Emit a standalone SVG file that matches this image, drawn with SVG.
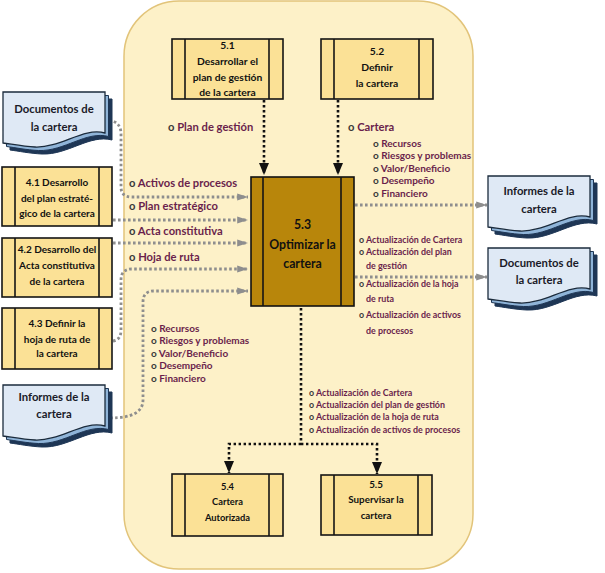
<svg xmlns="http://www.w3.org/2000/svg" width="605" height="573" viewBox="0 0 605 573">
<style>
text{font-family:Lato,"Liberation Sans",sans-serif;font-weight:bold}
.proc{fill:#fbe196;stroke:#151515;stroke-width:1.6}
.div{stroke:#151515;stroke-width:1.6}
.nt{font-size:10.3px;fill:#111;text-anchor:middle}
.n4{font-size:10px}
.dt{font-size:11.3px;fill:#1a1a28;text-anchor:middle}
.lb{fill:#6a1f4c}
.bu{fill:#3a3a3a}
.l1{font-size:11.2px}
.l2{font-size:10px}
.l3{font-size:8.9px}
.gd{fill:none;stroke:#8e8e8e;stroke-width:2.8;stroke-dasharray:2.6 2.4}
.bd{fill:none;stroke:#111;stroke-width:2.6;stroke-dasharray:2.4 2.6}
.s3{fill:#1e3655;stroke:#1e3655;stroke-width:1}
.s2{fill:#8fb4d8;stroke:#1e3655;stroke-width:1}
.s1{fill:#dfe9f5;stroke:#1b2b3c;stroke-width:1.3}
</style>
<defs>
<path id="doc" d="M0,0 H102 V41 C80,35 58,56 32,55 C20,54.5 8,52 0,51 Z"/>
<marker id="ga" viewBox="0 0 12 10" refX="12" refY="5" markerWidth="12" markerHeight="9" markerUnits="userSpaceOnUse" orient="auto"><path d="M0,1 L12,5 L0,9 Z" fill="#8e8e8e"/></marker>
<marker id="ba" viewBox="0 0 12 10" refX="12" refY="5" markerWidth="13" markerHeight="10" markerUnits="userSpaceOnUse" orient="auto"><path d="M0,0 L12,5 L0,10 Z" fill="#111"/></marker>
</defs>
<rect id="panel" x="124" y="1" width="349" height="568" rx="55" fill="#fdf1c8" stroke="#e2c47a" stroke-width="1.5"/>

<g id="connectors">
<path class="gd" d="M109,120 Q121,122 121,134 L121,187 Q121,197 132,197 L248,197" marker-end="url(#ga)"/>
<path class="gd" d="M113,220 L248,220" marker-end="url(#ga)"/>
<path class="gd" d="M113,243 L248,243" marker-end="url(#ga)"/>
<path class="gd" d="M113,341 Q121,340 121,330 L121,280 Q121,269 132,269 L248,269" marker-end="url(#ga)"/>
<path class="gd" d="M110,418 Q143,418 143,400 L143,302 Q143,291 154,291 L248,291" marker-end="url(#ga)"/>
<path class="gd" d="M355,205 L487,205" marker-end="url(#ga)"/>
<path class="gd" d="M355,277 L487,277" marker-end="url(#ga)"/>
<path class="bd" d="M264,100 L264,175" marker-end="url(#ba)"/>
<path class="bd" d="M338,100 L338,175" marker-end="url(#ba)"/>
<path class="bd" d="M301,308 L301,444"/>
<path class="bd" d="M301,444 L229,444 L229,473" marker-end="url(#ba)"/>
<path class="bd" d="M301,444 L377,444 L377,474" marker-end="url(#ba)"/>
</g>

<g id="labels">
<text x="168" y="131" class="l1"><tspan class="bu">o </tspan><tspan class="lb">Plan de gestión</tspan></text>
<text x="348" y="131" class="l1"><tspan class="bu">o </tspan><tspan class="lb">Cartera</tspan></text>
<text x="129" y="187" class="l1"><tspan class="bu">o </tspan><tspan class="lb">Activos de procesos</tspan></text>
<text x="129" y="210" class="l1"><tspan class="bu">o </tspan><tspan class="lb">Plan estratégico</tspan></text>
<text x="129" y="235" class="l1"><tspan class="bu">o </tspan><tspan class="lb">Acta constitutiva</tspan></text>
<text x="129" y="261" class="l1"><tspan class="bu">o </tspan><tspan class="lb">Hoja de ruta</tspan></text>
<g class="l2">
<text x="373" y="147"><tspan class="bu">o </tspan><tspan class="lb">Recursos</tspan></text>
<text x="373" y="159"><tspan class="bu">o </tspan><tspan class="lb">Riesgos y problemas</tspan></text>
<text x="373" y="172"><tspan class="bu">o </tspan><tspan class="lb">Valor/Beneficio</tspan></text>
<text x="373" y="184"><tspan class="bu">o </tspan><tspan class="lb">Desempeño</tspan></text>
<text x="373" y="197"><tspan class="bu">o </tspan><tspan class="lb">Financiero</tspan></text>
<text x="151" y="332"><tspan class="bu">o </tspan><tspan class="lb">Recursos</tspan></text>
<text x="151" y="344"><tspan class="bu">o </tspan><tspan class="lb">Riesgos y problemas</tspan></text>
<text x="151" y="357"><tspan class="bu">o </tspan><tspan class="lb">Valor/Beneficio</tspan></text>
<text x="151" y="369"><tspan class="bu">o </tspan><tspan class="lb">Desempeño</tspan></text>
<text x="151" y="382"><tspan class="bu">o </tspan><tspan class="lb">Financiero</tspan></text>
</g>
<g class="l3">
<text x="359" y="243"><tspan class="bu">o </tspan><tspan class="lb">Actualización de Cartera</tspan></text>
<text x="359" y="255"><tspan class="bu">o </tspan><tspan class="lb">Actualización del plan</tspan></text>
<text x="366" y="269" class="lb">de gestión</text>
<text x="359" y="287"><tspan class="bu">o </tspan><tspan class="lb">Actualización de la hoja</tspan></text>
<text x="366" y="302" class="lb">de ruta</text>
<text x="359" y="318"><tspan class="bu">o </tspan><tspan class="lb">Actualización de activos</tspan></text>
<text x="366" y="334" class="lb">de procesos</text>
<text x="309" y="396"><tspan class="bu">o </tspan><tspan class="lb">Actualización de Cartera</tspan></text>
<text x="309" y="408"><tspan class="bu">o </tspan><tspan class="lb">Actualización del plan de gestión</tspan></text>
<text x="309" y="420"><tspan class="bu">o </tspan><tspan class="lb">Actualización de la hoja de ruta</tspan></text>
<text x="309" y="433"><tspan class="bu">o </tspan><tspan class="lb">Actualización de activos de procesos</tspan></text>
</g>
</g>

<g id="n51">
<rect class="proc" x="172" y="39" width="111" height="60"/>
<line class="div" x1="185" y1="39" x2="185" y2="99"/><line class="div" x1="269" y1="39" x2="269" y2="99"/>
<text class="nt" x="227.5" y="49">5.1</text>
<text class="nt" x="227.5" y="65">Desarrollar el</text>
<text class="nt" x="227.5" y="81">plan de gestión</text>
<text class="nt" x="227.5" y="96">de la cartera</text>
</g>
<g id="n52">
<rect class="proc" x="321" y="39" width="112" height="60"/>
<line class="div" x1="334" y1="39" x2="334" y2="99"/><line class="div" x1="419" y1="39" x2="419" y2="99"/>
<text class="nt" x="377" y="55">5.2</text>
<text class="nt" x="377" y="71">Definir</text>
<text class="nt" x="377" y="87">la cartera</text>
</g>
<g id="n53">
<rect x="251" y="177" width="103" height="129" fill="#b8860b" stroke="#111" stroke-width="1.6"/>
<line class="div" x1="263" y1="177" x2="263" y2="306"/><line class="div" x1="341" y1="177" x2="341" y2="306"/>
<text class="nt" x="302.5" y="229" style="font-size:12.3px">5.3</text>
<text class="nt" x="302.5" y="249" style="font-size:12.3px">Optimizar la</text>
<text class="nt" x="302.5" y="268" style="font-size:12.3px">cartera</text>
</g>
<g id="n41">
<rect class="proc" x="2" y="167" width="110" height="59"/>
<line class="div" x1="15" y1="167" x2="15" y2="226"/><line class="div" x1="99" y1="167" x2="99" y2="226"/>
<text class="nt n4" x="57" y="186">4.1 Desarrollo</text>
<text class="nt n4" x="57" y="202">del plan estraté-</text>
<text class="nt n4" x="57" y="217">gico de la cartera</text>
</g>
<g id="n42">
<rect class="proc" x="2" y="238" width="110" height="59"/>
<line class="div" x1="15" y1="238" x2="15" y2="297"/><line class="div" x1="99" y1="238" x2="99" y2="297"/>
<text class="nt n4" x="57" y="253">4.2 Desarrollo del</text>
<text class="nt n4" x="57" y="269">Acta constitutiva</text>
<text class="nt n4" x="57" y="285">de la cartera</text>
</g>
<g id="n43">
<rect class="proc" x="2" y="308" width="110" height="61"/>
<line class="div" x1="15" y1="308" x2="15" y2="369"/><line class="div" x1="99" y1="308" x2="99" y2="369"/>
<text class="nt n4" x="57" y="327">4.3 Definir la</text>
<text class="nt n4" x="57" y="343">hoja de ruta de</text>
<text class="nt n4" x="57" y="357">la cartera</text>
</g>
<g id="n54">
<rect class="proc" x="172" y="474" width="111" height="62"/>
<line class="div" x1="185" y1="474" x2="185" y2="536"/><line class="div" x1="269" y1="474" x2="269" y2="536"/>
<text class="nt" x="227.5" y="490" style="font-size:9.3px">5.4</text>
<text class="nt" x="227.5" y="505" style="font-size:9.3px">Cartera</text>
<text class="nt" x="227.5" y="521" style="font-size:9.3px">Autorizada</text>
</g>
<g id="n55">
<rect class="proc" x="321" y="475" width="111" height="60"/>
<line class="div" x1="334" y1="475" x2="334" y2="535"/><line class="div" x1="418" y1="475" x2="418" y2="535"/>
<text class="nt" x="376" y="488" style="font-size:9.8px">5.5</text>
<text class="nt" x="376" y="503" style="font-size:9.8px">Supervisar la</text>
<text class="nt" x="376" y="519" style="font-size:9.8px">cartera</text>
</g>

<g id="docL1">
<use href="#doc" class="s3" x="10" y="99"/>
<use href="#doc" class="s2" x="6.5" y="95.5"/>
<use href="#doc" class="s1" x="3" y="92"/>
<text class="dt" x="54" y="113">Documentos de</text>
<text class="dt" x="54" y="131">la cartera</text>
</g>
<g id="docL2">
<use href="#doc" class="s3" x="10" y="392"/>
<use href="#doc" class="s2" x="6.5" y="388.5"/>
<use href="#doc" class="s1" x="3" y="385"/>
<text class="dt" x="54" y="401">Informes de la</text>
<text class="dt" x="54" y="418">cartera</text>
</g>
<g id="docR1">
<use href="#doc" class="s3" x="495" y="183"/>
<use href="#doc" class="s2" x="491.5" y="179.5"/>
<use href="#doc" class="s1" x="488" y="176"/>
<text class="dt" x="539" y="195">Informes de la</text>
<text class="dt" x="539" y="213">cartera</text>
</g>
<g id="docR2">
<use href="#doc" class="s3" x="495" y="255"/>
<use href="#doc" class="s2" x="491.5" y="251.5"/>
<use href="#doc" class="s1" x="488" y="248"/>
<text class="dt" x="539" y="267">Documentos de</text>
<text class="dt" x="539" y="284">la cartera</text>
</g>
</svg>
